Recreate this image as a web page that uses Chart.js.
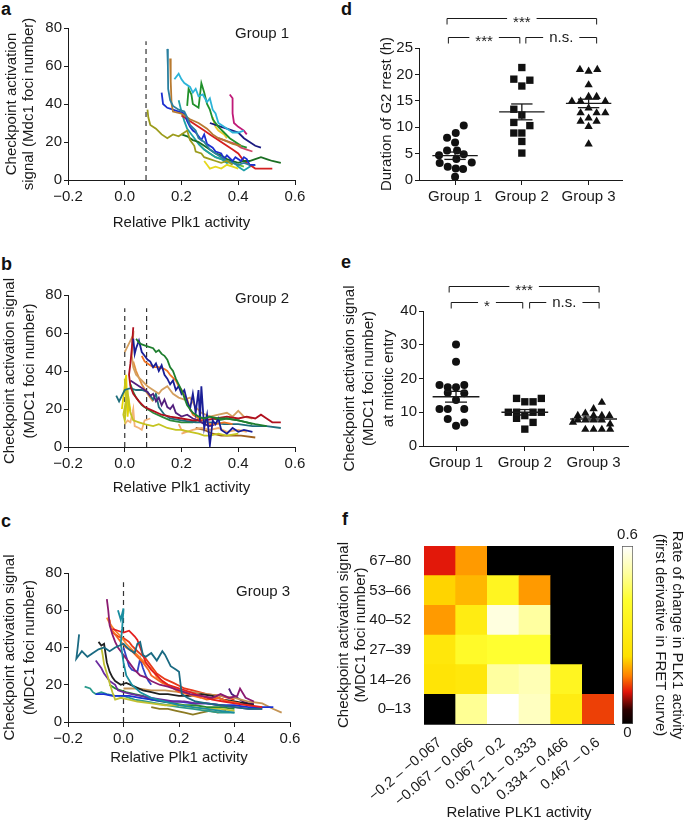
<!DOCTYPE html>
<html><head><meta charset="utf-8">
<script src="https://cdn.jsdelivr.net/npm/chart.js@4.4.1/dist/chart.umd.min.js"></script>
<style>
body{margin:0;background:#fff;width:685px;height:822px;position:relative;overflow:hidden;font-family:'Liberation Sans',Arial,sans-serif;}
canvas{position:absolute;}
.lbl{position:absolute;font-weight:bold;font-size:18px;line-height:18px;color:#111;}
</style></head><body>
<div class="lbl" style="left:1px;top:0px">a</div>
<div class="lbl" style="left:1px;top:255px">b</div>
<div class="lbl" style="left:1px;top:512px">c</div>
<div class="lbl" style="left:341px;top:0px">d</div>
<div class="lbl" style="left:341px;top:253px">e</div>
<div class="lbl" style="left:342px;top:510px">f</div>
<canvas id="pa" width="310" height="232" style="left:0;top:0"></canvas>
<canvas id="pb" width="310" height="242" style="left:0;top:255px"></canvas>
<canvas id="pc" width="305" height="237" style="left:0;top:530px"></canvas>
<canvas id="pd" width="300" height="215" style="left:340px;top:0"></canvas>
<canvas id="pe" width="305" height="210" style="left:340px;top:270px"></canvas>
<canvas id="pf" width="290" height="292" style="left:335px;top:530px"></canvas>
<canvas id="pcb" width="75" height="220" style="left:610px;top:520px"></canvas>
<script>
// ---------------- DATA ----------------
const plkTicks = [-0.2, 0, 0.2, 0.4, 0.6];
const fociTicks = [0, 20, 40, 60, 80];

// Panel a (Group 1) trajectories [Plk1 activity, foci]
const a01 = [[0.08,37],[0.083,33],[0.09,29],[0.11,27],[0.13,24],[0.15,22],[0.17,24],[0.19,23],[0.21,25],[0.22,26],[0.23,21],[0.245,18],[0.25,15],[0.27,14],[0.28,12],[0.3,11],[0.32,10],[0.34,9],[0.36,10],[0.38,8]];
const a02 = [[0.15,69],[0.152,60],[0.153,48],[0.16,42],[0.17,39],[0.19,37],[0.21,36],[0.22,33],[0.23,29],[0.25,26],[0.26,22],[0.28,20],[0.3,16],[0.32,14],[0.34,12],[0.36,10],[0.38,9],[0.4,8],[0.42,9],[0.44,8]];
const a03 = [[0.16,64],[0.162,52],[0.165,40],[0.17,36],[0.2,35],[0.23,32],[0.26,30],[0.29,27],[0.31,24],[0.33,22],[0.35,21],[0.38,19],[0.41,18]];
const a04 = [[0.175,53],[0.19,56],[0.2,53],[0.21,51],[0.23,49],[0.24,46],[0.25,48],[0.26,44],[0.275,45],[0.29,41],[0.3,43],[0.31,37],[0.32,35],[0.33,30],[0.35,28],[0.37,26],[0.38,25],[0.4,25],[0.42,26]];
const a05 = [[0.22,39],[0.225,48],[0.235,45],[0.24,40],[0.26,38],[0.27,51],[0.28,46],[0.29,40],[0.3,37],[0.31,32],[0.33,28],[0.35,25],[0.37,22],[0.39,20],[0.41,18],[0.43,17]];
const a06 = [[0.37,45],[0.38,43],[0.38,35],[0.385,30],[0.4,28],[0.42,26],[0.43,24]];
const a07 = [[0.13,46],[0.135,40],[0.15,38],[0.17,37],[0.19,36],[0.21,35],[0.22,31],[0.23,28],[0.24,26],[0.25,25],[0.27,21],[0.28,24],[0.29,19],[0.31,17],[0.32,15],[0.34,14],[0.35,11],[0.36,13],[0.38,10],[0.39,12],[0.41,10],[0.42,12],[0.43,11],[0.44,8],[0.46,8]];
const a08 = [[0.3,30],[0.32,29],[0.34,28],[0.36,27],[0.38,26],[0.4,25],[0.42,22],[0.44,20],[0.46,18],[0.48,17]];
const a09 = [[0.2,24],[0.22,23],[0.24,21],[0.26,20],[0.28,18],[0.3,16],[0.32,14],[0.34,13],[0.36,11],[0.38,10],[0.4,9],[0.42,10],[0.44,10],[0.46,11],[0.48,12],[0.5,11],[0.52,10],[0.55,9]];
const a10 = [[0.2,34],[0.22,32],[0.24,30],[0.26,28],[0.28,26],[0.3,24],[0.32,22],[0.34,20],[0.36,18],[0.38,16],[0.4,14],[0.42,10],[0.44,8],[0.46,6],[0.48,6],[0.5,6],[0.52,6]];
const a11 = [[0.28,10],[0.29,8],[0.3,6],[0.32,7],[0.34,6],[0.36,8],[0.38,7],[0.4,6]];
const a12 = [[0.31,33],[0.315,30],[0.32,28],[0.33,26],[0.35,24],[0.36,22]];
const a13 = [[0.19,42],[0.2,36],[0.21,31],[0.22,27],[0.24,23],[0.26,19],[0.28,16],[0.3,14],[0.32,12],[0.34,11],[0.36,9],[0.38,10],[0.4,7],[0.42,5],[0.44,7],[0.46,8]];
const a14 = [[0.26,19],[0.28,16],[0.3,14],[0.32,12],[0.34,11],[0.36,10],[0.38,9],[0.4,8],[0.42,7]];
const a15 = [[0.33,22],[0.35,21],[0.37,20],[0.39,19],[0.41,17],[0.43,16],[0.45,15]];
const groupA_lines = [a01,a02,a03,a04,a05,a06,a07,a08,a09,a10,a11,a12,a13,a14,a15];
const groupA_dash = [0.075];

// Panel b (Group 2)
const b01 = [[0.04,57],[0.05,55],[0.06,54],[0.08,53],[0.1,52],[0.11,50],[0.12,51],[0.13,49],[0.14,48],[0.15,46],[0.16,42],[0.17,40],[0.18,36],[0.19,33],[0.2,30],[0.21,26],[0.22,22],[0.24,18],[0.26,16],[0.28,15],[0.3,16],[0.33,15],[0.36,15],[0.4,14],[0.43,13],[0.46,12],[0.5,11]];
const b02 = [[0.03,57],[0.035,49],[0.04,52],[0.05,56],[0.06,50],[0.07,48],[0.08,46],[0.09,45],[0.1,42],[0.11,44],[0.12,40],[0.13,43],[0.14,38],[0.15,36],[0.16,33],[0.17,35],[0.18,30],[0.19,32],[0.2,28],[0.21,30],[0.22,24],[0.23,20],[0.24,28],[0.25,18],[0.26,30],[0.265,14],[0.27,32],[0.28,10],[0.29,17],[0.3,1],[0.31,14],[0.32,12],[0.33,15],[0.34,9],[0.36,7],[0.38,10],[0.4,8],[0.42,9],[0.45,8]];
const b03 = [[0.06,48],[0.07,45],[0.08,44],[0.09,43],[0.1,42],[0.12,42],[0.14,41],[0.15,40],[0.16,38],[0.18,35],[0.19,32],[0.2,30],[0.21,27],[0.22,25],[0.23,20],[0.24,17],[0.26,15],[0.28,14],[0.3,12],[0.32,12],[0.35,13],[0.38,12]];
const b04 = [[0.03,63],[0.025,52],[0.02,44],[0.015,38],[0.02,32],[0.03,28],[0.05,24],[0.07,21],[0.1,19],[0.13,17],[0.16,16],[0.2,15],[0.24,14],[0.28,14],[0.32,15],[0.36,16],[0.4,15],[0.43,16],[0.46,15],[0.48,17],[0.5,15],[0.52,13],[0.55,13]];
const b05 = [[0.0,50],[0.01,53],[0.02,56],[0.03,59],[0.025,48],[0.03,42],[0.04,38],[0.06,35],[0.08,32],[0.1,30],[0.12,28],[0.13,30],[0.15,32],[0.17,28],[0.19,26],[0.21,25],[0.23,26],[0.25,21],[0.27,18],[0.3,16],[0.33,17],[0.36,18],[0.38,16],[0.4,19],[0.42,16],[0.45,15]];
const b06 = [[0.02,35],[0.04,33],[0.06,31],[0.08,29],[0.09,27],[0.1,28],[0.11,24],[0.12,26],[0.13,22],[0.14,25],[0.15,21],[0.16,20],[0.17,22],[0.18,18],[0.2,16],[0.22,17],[0.24,15],[0.26,14],[0.28,12],[0.3,11],[0.32,12]];
const b07 = [[-0.03,27],[-0.02,24],[-0.01,27],[0.0,30],[0.02,31],[0.04,30],[0.06,30],[0.08,29],[0.09,27],[0.1,25],[0.11,28],[0.12,21],[0.14,17],[0.16,15],[0.2,14],[0.25,13],[0.3,13],[0.35,12],[0.4,12],[0.45,11],[0.5,11],[0.55,10]];
const b08 = [[0.02,33],[0.03,29],[0.04,26],[0.06,22],[0.08,20],[0.1,18],[0.13,16],[0.16,14],[0.2,13],[0.24,13],[0.27,15],[0.3,16],[0.33,14],[0.36,15],[0.4,14],[0.43,13],[0.45,12]];
const b09 = [[0.0,36],[0.005,25],[-0.005,17],[0.0,14],[0.01,30],[0.015,22],[0.02,18],[0.03,14],[0.05,13],[0.07,12],[0.1,11],[0.12,12],[0.15,10],[0.18,9],[0.2,9],[0.23,8],[0.26,7],[0.28,6],[0.3,6],[0.33,7],[0.36,6],[0.4,7]];
const b10 = [[0.0,12],[0.01,14],[0.02,13],[0.03,20],[0.035,11],[0.05,10],[0.06,9],[0.07,14],[0.09,15]];
const b11 = [[0.19,12],[0.2,9],[0.22,8],[0.2,7],[0.24,9],[0.27,10],[0.3,9],[0.33,10],[0.36,8],[0.4,9],[0.43,8]];
const b12 = [[-0.01,20],[-0.005,26],[0.005,38],[0.01,16],[0.015,24],[0.02,19]];
const b13 = [[0.25,10],[0.28,9],[0.31,7],[0.34,6],[0.37,6],[0.41,6],[0.46,5]];
const b14 = [[0.03,45],[0.04,40],[0.06,33],[0.08,28],[0.1,24]];
const groupB_lines = [b01,b02,b03,b04,b05,b06,b07,b08,b09,b10,b11,b12,b13,b14];
const groupB_dash = [0.0, 0.077];

// Panel c (Group 3)
const c01 = [[-0.16,47],[-0.165,40],[-0.17,34],[-0.15,38],[-0.13,35],[-0.11,37],[-0.09,39],[-0.07,40],[-0.05,38],[-0.03,40],[0.0,42],[0.02,39],[0.04,37],[0.05,42],[0.06,43],[0.07,36],[0.08,35],[0.1,37],[0.12,33],[0.14,38],[0.15,36],[0.17,30],[0.19,28],[0.2,27],[0.21,15],[0.23,13],[0.26,11],[0.3,10],[0.35,9],[0.4,8],[0.45,7],[0.5,7]];
const c02 = [[-0.02,60],[-0.01,55],[0.0,61],[-0.005,50],[-0.01,42],[0.0,32],[0.01,25],[0.03,20],[0.06,16],[0.1,13],[0.15,11],[0.2,9],[0.25,8],[0.3,7],[0.35,6],[0.4,5]];
const c03 = [[-0.06,66],[-0.055,60],[-0.05,52],[-0.04,47],[-0.03,43],[-0.02,40],[0.0,36],[0.02,32],[0.04,28],[0.06,25],[0.08,24],[0.1,22],[0.13,20],[0.16,19],[0.2,17],[0.24,15],[0.28,14],[0.32,13],[0.35,15],[0.38,13],[0.41,14],[0.42,18],[0.44,13],[0.47,11]];
const c04 = [[-0.04,50],[-0.02,49],[0.0,48],[0.02,49],[0.04,46],[0.05,44],[0.06,40],[0.07,36],[0.08,32],[0.1,28],[0.12,25],[0.14,22],[0.16,20],[0.2,18],[0.24,16],[0.28,14],[0.32,12],[0.36,11],[0.4,10],[0.45,9],[0.5,8]];
const c05 = [[-0.05,55],[-0.045,50],[-0.03,47],[-0.01,43],[0.01,40],[0.03,38],[0.05,35],[0.07,32],[0.09,28],[0.1,25],[0.12,23],[0.14,21],[0.17,19],[0.2,16],[0.23,15],[0.26,14],[0.3,12],[0.34,13],[0.38,11],[0.42,10]];
const c06 = [[-0.06,56],[-0.05,53],[-0.03,49],[-0.01,46],[0.01,42],[0.03,39],[0.05,36],[0.07,33],[0.09,30],[0.11,27],[0.12,24],[0.14,22],[0.16,20],[0.19,18],[0.22,16],[0.25,14],[0.28,13]];
const c07 = [[-0.09,43],[-0.08,41],[-0.07,42],[-0.065,37],[-0.06,32],[-0.05,27],[-0.04,24],[-0.03,22],[-0.01,20],[0.01,21],[0.04,19],[0.07,17],[0.1,16],[0.13,15],[0.16,15],[0.2,14],[0.24,14],[0.28,15],[0.32,14],[0.36,12],[0.4,11],[0.44,10],[0.47,9]];
const c08 = [[-0.08,40],[-0.075,36],[-0.07,31],[-0.06,26],[-0.05,21],[-0.04,16],[-0.03,12],[-0.01,13],[0.02,12],[0.05,11],[0.1,10],[0.15,9],[0.2,9],[0.25,8],[0.3,7],[0.35,7],[0.4,6]];
const c09 = [[-0.1,33],[-0.09,31],[-0.08,29],[-0.07,26],[-0.06,24],[-0.05,22],[-0.03,20],[-0.02,17],[0.0,16],[0.03,15],[0.06,14],[0.1,13],[0.14,12],[0.18,11],[0.22,11],[0.26,10],[0.3,10],[0.35,9],[0.4,8],[0.45,7],[0.5,7]];
const c10 = [[-0.1,15],[-0.07,15],[-0.04,14],[-0.01,14],[0.02,14],[0.06,13],[0.1,12],[0.15,11],[0.2,11],[0.25,10],[0.3,10],[0.35,9],[0.4,9],[0.45,8],[0.5,8],[0.54,8]];
const c11 = [[-0.05,20],[-0.03,18],[-0.01,17],[0.01,16],[0.04,15],[0.07,14],[0.1,12],[0.14,11],[0.18,10],[0.22,9],[0.26,9],[0.3,8],[0.35,8],[0.4,7]];
const c12 = [[0.0,18],[0.05,18],[0.1,17],[0.15,17],[0.2,16],[0.25,16],[0.3,15],[0.35,14],[0.4,13],[0.45,11],[0.5,10],[0.54,7],[0.57,5]];
const c13 = [[-0.14,19],[-0.12,18],[-0.11,16],[-0.1,15],[-0.08,16],[-0.06,15],[-0.03,14],[0.0,14],[0.04,12],[0.08,11],[0.12,10],[0.16,9],[0.2,8],[0.25,7],[0.3,6],[0.35,5],[0.4,5]];
const c14 = [[0.1,8],[0.13,7],[0.16,7],[0.19,6],[0.22,5],[0.25,4],[0.28,5],[0.31,6],[0.34,5],[0.37,6]];
const c15 = [[0.38,18],[0.39,15],[0.41,13],[0.43,11],[0.45,10],[0.47,10]];
const c16 = [[0.0,40],[0.01,35],[0.02,30],[0.03,28],[0.05,27],[0.06,34],[0.07,29],[0.08,25],[0.09,22],[0.1,20]];
const c17 = [[-0.04,48],[-0.02,46],[0.0,45],[0.01,44],[0.02,43],[0.03,41],[0.05,38],[0.08,34],[0.1,30],[0.12,26],[0.15,23],[0.18,21],[0.22,18],[0.25,17],[0.3,15],[0.35,14],[0.4,12]];
const groupC_lines = [c01,c02,c03,c04,c05,c06,c07,c08,c09,c10,c11,c12,c13,c14,c15,c16,c17];
const groupC_dash = [0.0];

// Panel d: duration of G2 arrest (h)
const groupNames = ['Group 1', 'Group 2', 'Group 3'];
const d_g1 = [10.3, 8.9, 8.0, 7.1, 5.6, 5.6, 4.7, 4.9, 4.0, 3.2, 3.3, 2.5, 2.2, 2.1, 0.6];
const d_g1_jit = [0.13, 0.01, -0.12, 0.0, -0.12, 0.03, -0.24, 0.13, 0.02, -0.23, 0.25, -0.11, 0.01, 0.12, 0.0];
const d_g2 = [21.3, 19.1, 18.9, 17.8, 13.4, 12.3, 10.9, 10.3, 8.9, 8.9, 7.3, 5.1];
const d_g2_jit = [0, -0.12, 0.12, 0, -0.12, 0, -0.12, 0.12, -0.12, 0, 0, 0];
const d_g3 = [20.9, 20.6, 20.9, 18.0, 14.9, 14.9, 15.8, 15.8, 14.9, 13.6, 12.7, 12.7, 12.7, 11.7, 11.1, 11.1, 10.1, 6.8];
const d_g3_jit = [-0.13, 0, 0.13, 0, -0.25, -0.12, 0, 0.12, 0.25, 0, -0.12, 0.12, 0.25, 0, -0.12, 0.12, 0, 0];
const d_mean = [4.6, 12.9, 14.5];
const d_sem = [0.7, 1.5, 0.8];

// Panel e: checkpoint signal at mitotic entry
const e_g1 = [30.1, 25.0, 18.1, 17.4, 17.4, 18.1, 15.8, 15.6, 13.6, 11.0, 11.0, 11.0, 8.0, 7.0, 6.0];
const e_g1_jit = [0, 0, -0.24, -0.12, 0, 0.12, -0.12, 0.12, 0, -0.24, -0.12, 0.12, -0.12, 0.12, 0];
const e_g2 = [14.1, 13.1, 13.1, 14.1, 10.0, 10.0, 10.0, 10.0, 8.2, 7.0, 5.0, 9.0];
const e_g2_jit = [-0.12, 0, 0.12, 0.24, -0.24, -0.12, 0.12, 0.24, -0.12, 0.12, 0, 0];
const e_g3 = [12.9, 11.0, 9.7, 9.0, 9.0, 9.0, 9.0, 7.7, 7.7, 7.7, 7.7, 6.5, 4.9, 4.9, 4.9, 4.9, 7.0];
const e_g3_jit = [0.12, 0, -0.12, -0.23, 0, 0.12, 0.23, -0.23, -0.12, 0, 0.12, 0.24, -0.12, 0, 0.12, 0.24, -0.3];
const e_mean = [14.6, 10.0, 8.0];
const e_sem = [1.6, 0.8, 0.6];

// Panel f: heatmap (rows bottom -> top)
const plkBins = ['\u22120.2 \u2013 \u22120.067', '\u22120.067 \u2013 0.066', '0.067 \u2013 0.2', '0.21 \u2013 0.333', '0.334 \u2013 0.466', '0.467 \u2013 0.6'];
const fociBins = ['0\u201313', '14\u201326', '27\u201339', '40\u201352', '53\u201366', '67\u201380'];
const rate_0_13  = [0, 0.50, 0.60, 0.54, 0.30, 0.13];
const rate_14_26 = [0.25, 0.27, 0.51, 0.53, 0.36, 0];
const rate_27_39 = [0.27, 0.39, 0.42, 0.42, 0, 0];
const rate_40_52 = [0.18, 0.30, 0.57, 0.51, 0, 0];
const rate_53_66 = [0.22, 0.20, 0.36, 0.18, 0, 0];
const rate_67_80 = [0.11, 0.18, 0, 0, 0, 0];
const rateRows = [rate_0_13, rate_14_26, rate_27_39, rate_40_52, rate_53_66, rate_67_80];
const rateRange = [0, 0.6];

// ---------------- STYLES ----------------
const FONT = "'Liberation Sans', Arial, sans-serif";
const INK = '#1a1a1a';
const colorsA = ['#9c9c1c','#2a7f9f','#b87a30','#2cb4d8','#20902a','#c01a78','#1c2ed0','#1a1a80','#1a6e22','#d42020','#e6d81c','#e8c830','#1fa0a8','#6cc038','#d04868'];
const colorsB = ['#1e7e2e','#1a1e96','#f07424','#b0101e','#d4a060','#52207e','#1f6e7c','#2a8a3a','#c4c420','#f4b478','#f0ac6c','#e4d400','#a0621e','#e09040'];
const colorsC = ['#1a6a82','#1a8ea0','#8a1a70','#e41e1e','#f46420','#f88a30','#202020','#c0c032','#6a2a9e','#1a32d4','#2a8a2e','#c49454','#2a9a8c','#8c7a22','#4c1c7c','#3444c4','#e83a1a'];
const cmapStops = [[0,[0,0,0]],[0.08,[45,0,0]],[0.18,[225,20,10]],[0.27,[255,128,0]],[0.38,[255,224,0]],[0.7,[255,255,48]],[0.85,[255,255,160]],[1,[255,255,255]]];
function cmap(t) {
  t = Math.max(0, Math.min(1, t));
  for (let i = 1; i < cmapStops.length; i++) {
    const [t1, c1] = cmapStops[i], [t0, c0] = cmapStops[i-1];
    if (t <= t1) {
      const f = (t - t0) / (t1 - t0);
      const c = c0.map((v, k) => Math.round(v + (c1[k] - v) * f));
      return `rgb(${c[0]},${c[1]},${c[2]})`;
    }
  }
  return 'rgb(255,255,255)';
}

Chart.defaults.font.family = FONT;
Chart.defaults.font.size = 15;
Chart.defaults.color = INK;
Chart.defaults.animation = false;
Chart.defaults.responsive = false;
Chart.defaults.plugins.legend.display = false;
Chart.defaults.plugins.tooltip.enabled = false;

const annotPlugin = {
  id: 'annot',
  afterDraw(chart, args, opts) {
    const ctx = chart.ctx;
    const xs = chart.scales.x, ys = chart.scales.y;
    ctx.save();
    ctx.fillStyle = INK; ctx.strokeStyle = INK; ctx.lineWidth = 1;
    ctx.font = '15px ' + FONT;
    (opts.brackets || []).forEach(b => {
      const x1 = xs.getPixelForValue(b.from), x2 = xs.getPixelForValue(b.to);
      const y = Math.round(ys.getPixelForValue(b.y)) + 0.5;
      const xm = (x1 + x2) / 2;
      const half = ctx.measureText(b.text).width / 2 + 6;
      ctx.beginPath();
      ctx.moveTo(x1, y + 6); ctx.lineTo(x1, y); ctx.lineTo(xm - half, y);
      ctx.moveTo(xm + half, y); ctx.lineTo(x2, y); ctx.lineTo(x2, y + 6);
      ctx.stroke();
      ctx.textAlign = 'center'; ctx.textBaseline = 'middle';
      ctx.fillText(b.text, xm, y + (b.text.includes('*') ? 4 : 0));
    });
    (opts.texts || []).forEach(t => {
      const x = t.px ? t.x : xs.getPixelForValue(t.x);
      const y = t.px ? t.y : ys.getPixelForValue(t.y);
      ctx.textAlign = 'center'; ctx.textBaseline = 'middle';
      ctx.fillText(t.text, x, y);
    });
    ctx.restore();
  }
};
Chart.register(annotPlugin);

const fmtPlk = v => v.toFixed(1).replace('-', '\u2212');
const axisCommon = { grid: { drawOnChartArea: false, color: INK, tickLength: 5 }, border: { color: INK, width: 1 } };

function linePanel(id, lines, colors, dashes, dashTop, yTitle, yTitleLH, yTitlePad, groupText, geom) {
  const ds = lines.map((l, i) => ({
    data: l.map(p => ({ x: p[0], y: p[1] })), showLine: true, borderColor: colors[i],
    borderWidth: 1.8, pointRadius: 0, tension: 0
  }));
  dashes.forEach(x => ds.push({ data: [{ x: x, y: 0 }, { x: x, y: dashTop }], showLine: true,
    borderColor: '#333', borderWidth: 1.2, borderDash: [5, 4], pointRadius: 0 }));
  new Chart(document.getElementById(id), {
    type: 'scatter',
    data: { datasets: ds },
    options: {
      layout: { padding: { top: geom.top, right: geom.right, left: 0, bottom: 0 } },
      plugins: { annot: { texts: [groupText] } },
      scales: {
        x: { ...axisCommon, type: 'linear', min: -0.2, max: 0.6,
          afterBuildTicks: ax => { ax.ticks = plkTicks.map(v => ({ value: v })); },
          ticks: { callback: fmtPlk, padding: 3, maxRotation: 0 },
          title: { display: true, text: 'Relative Plk1 activity', padding: 0, font: { size: 15 } },
          afterFit: s => { s.height = geom.xH; } },
        y: { ...axisCommon, type: 'linear', min: 0, max: 80,
          afterBuildTicks: ax => { ax.ticks = fociTicks.map(v => ({ value: v })); },
          ticks: { padding: 2 },
          grid: { drawOnChartArea: false, color: INK, tickLength: 4 },
          title: { display: true, text: yTitle, padding: { top: yTitlePad, bottom: 0 }, font: { size: 15, lineHeight: yTitleLH } },
          afterFit: s => { s.width = geom.yW; } }
      }
    }
  });
}

linePanel('pa', groupA_lines, colorsA, groupA_dash, 73, ['Checkpoint activation', 'signal (Mdc1 foci number)'], 1.1, 4,
  { x: 0.484, y: 77, text: 'Group 1' }, { top: 28, right: 15, xH: 52, yW: 68 });
linePanel('pb', groupB_lines, colorsB, groupB_dash, 73, ['Checkpoint activation signal', '(MDC1 foci number)'], 1.33, 0,
  { x: 0.484, y: 78, text: 'Group 2' }, { top: 40, right: 15, xH: 50, yW: 68 });
linePanel('pc', groupC_lines, colorsC, groupC_dash, 75, ['Checkpoint activation signal', '(MDC1 foci number)'], 1.33, 0,
  { x: 0.503, y: 70, text: 'Group 3' }, { top: 43, right: 15, xH: 45, yW: 68 });

function dotPanel(id, groups, jits, means, sems, yMax, yTicks, xMin, yTitle, yTitleLH, yTitlePad, brackets, geom) {
  const styles = [['circle', 4], ['rect', 5.2], ['triangle', 4.8]];
  const ds = [];
  const seg = pts => ({ data: pts.map(p => ({ x: p[0], y: p[1] })), showLine: true, borderColor: INK, borderWidth: 1.3, pointRadius: 0 });
  means.forEach((m, gi) => {
    const g = gi + 1, s = sems[gi];
    ds.push(seg([[g - 0.34, m], [g + 0.34, m]]));
    ds.push(seg([[g, m - s], [g, m + s]]));
    ds.push(seg([[g - 0.16, m + s], [g + 0.16, m + s]]));
    ds.push(seg([[g - 0.16, m - s], [g + 0.16, m - s]]));
  });
  groups.forEach((vals, gi) => {
    ds.push({ data: vals.map((v, i) => ({ x: gi + 1 + jits[gi][i], y: v })), pointStyle: styles[gi][0],
      pointRadius: styles[gi][1], backgroundColor: '#111', borderColor: '#111', borderWidth: 0 });
  });
  new Chart(document.getElementById(id), {
    type: 'scatter',
    data: { datasets: ds },
    options: {
      layout: { padding: { top: geom.top, right: geom.right, left: 0, bottom: 0 } },
      plugins: { annot: { brackets: brackets } },
      scales: {
        x: { ...axisCommon, type: 'linear', min: xMin, max: 3.5,
          afterBuildTicks: ax => { ax.ticks = [1, 2, 3].map(v => ({ value: v })); },
          ticks: { callback: (v, i) => groupNames[i], padding: 3, maxRotation: 0 },
          afterFit: s => { s.height = geom.xH; } },
        y: { ...axisCommon, type: 'linear', min: 0, max: yMax,
          afterBuildTicks: ax => { ax.ticks = yTicks.map(v => ({ value: v })); },
          ticks: { padding: 2 },
          grid: { drawOnChartArea: false, color: INK, tickLength: 4 },
          title: { display: true, text: yTitle, padding: { top: yTitlePad, bottom: 0 }, font: { size: 15, lineHeight: yTitleLH } },
          afterFit: s => { s.width = geom.yW; } }
      }
    }
  });
}

dotPanel('pd', [d_g1, d_g2, d_g3], [d_g1_jit, d_g2_jit, d_g3_jit], d_mean, d_sem, 25, [0, 5, 10, 15, 20, 25], 0.46,
  'Duration of G2 rrest (h)', 1.2, 38,
  [{ from: 0.88, to: 3.12, y: 30.7, text: '***' }, { from: 0.9, to: 1.97, y: 27.0, text: '***' }, { from: 2.06, to: 3.12, y: 27.0, text: 'n.s.' }],
  { top: 48, right: 18, xH: 35, yW: 79 });
dotPanel('pe', [e_g1, e_g2, e_g3], [e_g1_jit, e_g2_jit, e_g3_jit], e_mean, e_sem, 40, [0, 10, 20, 30, 40], 0.52,
  ['Checkpoint activation signal', '(MDC1 foci number)', 'at mitotic entry'], 1.3, 0,
  [{ from: 0.9, to: 3.08, y: 47.4, text: '***' }, { from: 0.93, to: 1.97, y: 42.7, text: '*' }, { from: 2.07, to: 3.08, y: 42.7, text: 'n.s.' }],
  { top: 41, right: 17, xH: 34, yW: 83 });

// Heatmap
new Chart(document.getElementById('pf'), {
  type: 'bar',
  data: {
    labels: plkBins,
    datasets: rateRows.map((row, r) => ({
      data: row.map(() => [r, r + 1]),
      backgroundColor: row.map(v => cmap((v - rateRange[0]) / (rateRange[1] - rateRange[0]))),
      borderWidth: 0, grouped: false, barPercentage: 1, categoryPercentage: 1
    }))
  },
  options: {
    layout: { padding: { top: 16, right: 11, left: 0, bottom: 0 } },
    scales: {
      x: { grid: { display: false }, border: { color: '#444' },
        ticks: { autoSkip: false, minRotation: 40, maxRotation: 40, padding: 2, font: { size: 14.5 } },
        title: { display: true, text: 'Relative PLK1 activity', padding: 0 },
        afterFit: s => { s.height = 98; } },
      y: { type: 'linear', min: 0, max: 6, grid: { display: false }, border: { color: '#444' },
        afterBuildTicks: ax => { ax.ticks = fociBins.map((b, i) => ({ value: i + 0.5 })); },
        ticks: { callback: (v, i) => fociBins[i], padding: 5 },
        title: { display: true, text: ['Checkpoint activation signal', '(MDC1 foci number)'], padding: { top: 0, bottom: 0 }, font: { size: 15, lineHeight: 1.15 } },
        afterFit: s => { s.width = 89; } }
    }
  }
});

// Colour bar
new Chart(document.getElementById('pcb'), {
  type: 'bar',
  data: {
    labels: [''],
    datasets: [{
      data: [rateRange],
      backgroundColor: c => {
        const ca = c.chart.chartArea;
        if (!ca) return '#000';
        const g = c.chart.ctx.createLinearGradient(0, ca.bottom, 0, ca.top);
        cmapStops.forEach(([t, col]) => g.addColorStop(t, `rgb(${col[0]},${col[1]},${col[2]})`));
        return g;
      },
      borderColor: '#555', borderWidth: 1, borderSkipped: false, barPercentage: 1, categoryPercentage: 1
    }]
  },
  options: {
    layout: { padding: { top: 26, right: 0, left: 12, bottom: 16 } },
    plugins: { annot: { texts: [{ px: true, x: 17.5, y: 15, text: rateRange[1].toFixed(1) }, { px: true, x: 17.5, y: 213, text: String(rateRange[0]) }] } },
    scales: {
      x: { display: false },
      y: { position: 'right', min: rateRange[0], max: rateRange[1], ticks: { display: false },
        grid: { display: false }, border: { display: false },
        title: { display: true, text: ['Rate of change in PLK1 activity', '(first derivative in FRET curve)'], padding: { top: 0, bottom: 0 }, font: { size: 15, lineHeight: 1.1 } },
        afterFit: s => { s.width = 52; } }
    }
  }
});
</script>
</body></html>
